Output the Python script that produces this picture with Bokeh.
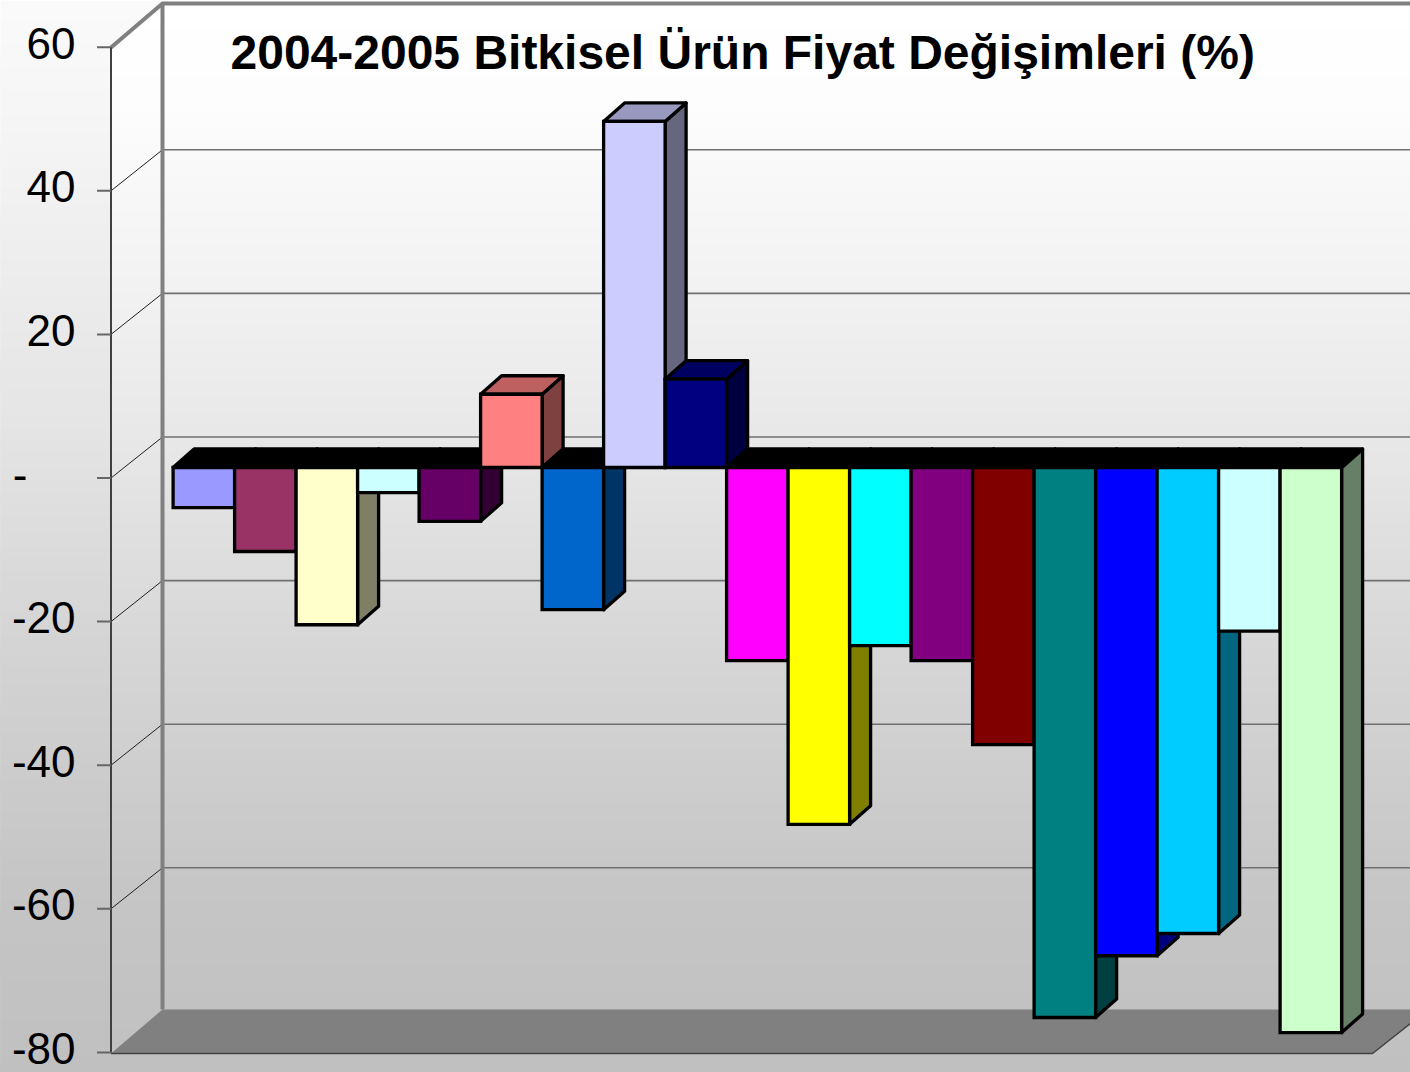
from bokeh.plotting import figure
from bokeh.models import Range1d, Label, ColumnDataSource
from bokeh.core.properties import value
from bokeh.embed import file_html
from bokeh.resources import INLINE

# ---- data ----
values = [-5.6, -11.7, -21.9, -3.5, -7.5, 10.2, -19.8, 48.2, 12.3, -26.9,
          -49.7, -24.8, -26.9, -38.6, -76.6, -68.0, -64.9, -22.8, -78.7]
colors = ["#9999FF", "#993366", "#FFFFCC", "#CCFFFF", "#660066", "#FF8080", "#0066CC",
          "#CCCCFF", "#000080", "#FF00FF", "#FFFF00", "#00FFFF", "#800080", "#800000",
          "#008080", "#0000FF", "#00CCFF", "#CCFFFF", "#CCFFCC"]
ticks = [60, 40, 20, 0, -20, -40, -60, -80]
tick_labels = ["60", "40", "20", "-", "-20", "-40", "-60", "-80"]
title_text = "2004-2005 Bitkisel Ürün Fiyat Değişimleri (%)"

# ---- geometry of the picture ----
W, H = 1410, 1072
BAR_X0, BAR_W = 172.6, 61.5       # px of first bar's left edge, bar width
UNIT = 7.18                       # px per value unit
BAR_Y0, FRONT_Y0, BACK_Y0 = 467.0, 477.5, 436.5
AXIS_X, WALL_X = 110.5, 162.0
DX, DY = 21.0, 18.5               # bar depth in px

def shade(c, k):
    return "#%02X%02X%02X" % tuple(int(int(c[i:i + 2], 16) * k) for i in (1, 3, 5))

def lerp(y, stops):
    for (a, ca), (b, cb) in zip(stops, stops[1:]):
        if y <= b:
            return ca + (cb - ca) * (y - a) / (b - a)
    return stops[-1][1]

p = figure(width=W, height=H, output_backend="svg", toolbar_location=None,
           x_axis_type=None, y_axis_type=None, min_border=0,
           x_range=Range1d(-BAR_X0 / BAR_W, (W - BAR_X0) / BAR_W),
           y_range=Range1d((BAR_Y0 - H) / UNIT, BAR_Y0 / UNIT),
           outline_line_color=None, border_fill_color=None)
p.grid.visible = False
p.extra_x_ranges["px"] = Range1d(0, W)
p.extra_y_ranges["px"] = Range1d(H, 0)
p.extra_y_ranges["front"] = Range1d((FRONT_Y0 - H) / UNIT, FRONT_Y0 / UNIT)
p.extra_y_ranges["back"] = Range1d((BACK_Y0 - H) / UNIT, BACK_Y0 / UNIT)
PX = dict(x_range_name="px", y_range_name="px")

# ---- backgrounds: strips painted top to bottom, each running down to the bottom ----
outer = [(0, 250), (100, 246), (430, 228), (640, 212), (880, 197), (1072, 192)]
inner = [(0, 255), (100, 253), (300, 241), (430, 232), (640, 215), (880, 198), (1072, 192)]
ys = list(range(0, H, 6))
def grey(v):
    v = int(round(v))
    return "#%02X%02X%02X" % (v, v, v)
p.quad(left=[0] * len(ys), right=[W] * len(ys), top=ys, bottom=[H] * len(ys),
       fill_color=[grey(lerp(y, outer)) for y in ys], line_color=None, **PX)
iy = [y for y in range(0, 1053, 4)]
il = [max(AXIS_X, WALL_X - (y - 3) * (WALL_X - AXIS_X) / 44.0) for y in iy]
p.quad(left=il, right=[W] * len(iy), top=iy, bottom=[1053] * len(iy),
       fill_color=[grey(lerp(y, inner)) for y in iy], line_color=None, **PX)

# floor
p.patch([AXIS_X, WALL_X, W, W, 1372], [1053, 1009, 1009, 1023, 1053], fill_color="#808080",
        line_color=None, **PX)
p.line([AXIS_X, 1372, W], [1053, 1053, 1023], line_color="#404040", line_width=1.5, **PX)

# grid on the back wall and on the left wall
back = [t for t in ticks if t not in (60, -80)]
p.segment(x0=[WALL_X] * len(back), x1=[W] * len(back), y0=back, y1=back,
          line_color="#707070", line_width=1.6, x_range_name="px", y_range_name="back")
p.segment(x0=[AXIS_X] * len(back), x1=[WALL_X] * len(back),
          y0=[FRONT_Y0 - UNIT * t for t in back], y1=[BACK_Y0 - UNIT * t for t in back],
          line_color="#202020", line_width=1, **PX)
# wall edges
p.line([WALL_X, WALL_X], [1009, 3], line_color="#808080", line_width=4, **PX)
p.line([AXIS_X, WALL_X, W], [47, 3, 3], line_color="#808080", line_width=4, **PX)

# ---- bars, painted left to right: side, top, front ----
dx = DX / BAR_W
dy = DY / UNIT
xs, yy, fc, joins = [], [], [], []
for i, (v, c) in enumerate(zip(values, colors)):
    l, r = float(i), i + 1.0
    xs.append([r, r + dx, r + dx, r]); yy.append([0, dy, v + dy, v]); fc.append(shade(c, 0.5))
    joins.append("round")
    xs.append([l, l + dx, r + dx, r])
    top = max(v, 0)
    yy.append([top, top + dy, top + dy, top]); fc.append(shade(c, 0.75) if v > 0 else "#000000")
    joins.append("round")
    xs.append([l, r, r, l]); yy.append([0, 0, v, v]); fc.append(c)
    joins.append("miter")
src = ColumnDataSource(dict(xs=xs, ys=yy, fc=fc, joins=joins))
p.patches("xs", "ys", source=src, fill_color="fc", line_color="#000000", line_width=3.3,
          line_join="joins")

# ---- value axis on the front plane: line, ticks, labels ----
p.line([AXIS_X, AXIS_X], [ticks[0], ticks[-1]], line_color="#404040", line_width=2,
       x_range_name="px", y_range_name="front")
p.segment(x0=[AXIS_X - 14] * len(ticks), x1=[AXIS_X] * len(ticks), y0=ticks, y1=ticks,
          line_color="#666666", line_width=2, x_range_name="px", y_range_name="front")
lab_x = [75 if t != "-" else 27 for t in tick_labels]
lab_y = [FRONT_Y0 - UNIT * t - 4 for t in ticks]
p.text(x=lab_x, y=lab_y, text=tick_labels, text_font=value("Liberation Sans"),
       text_font_size="44px", text_align="right", text_baseline="middle",
       text_color="#000000", **PX)

p.add_layout(Label(x=230, y=51.5, x_range_name="px", y_range_name="px", text=title_text,
                   text_font="Liberation Sans", text_font_style="bold",
                   text_font_size="48px", text_color="#000000", text_baseline="middle"))

open("out.html", "w").write(file_html(p, INLINE))
